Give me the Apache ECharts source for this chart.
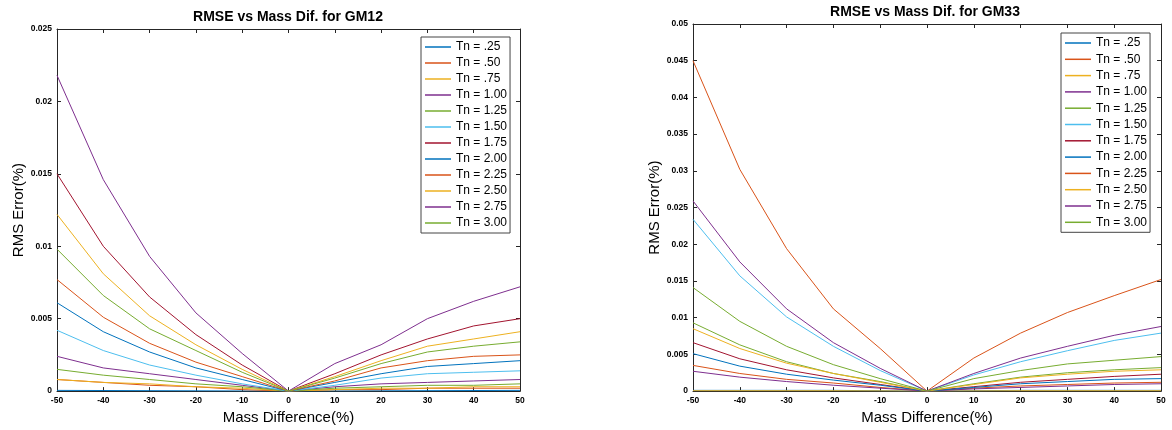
<!DOCTYPE html>
<html>
<head>
<meta charset="utf-8">
<script src="https://cdn.jsdelivr.net/npm/echarts@6/dist/echarts.min.js"></script>
<style>
  html, body { margin: 0; padding: 0; background: #fff; }
  #chart { width: 1172px; height: 430px; }
</style>
</head>
<body>
<div id="chart"></div>
<script>
// x positions shared by both panels
const massDiff = [-50, -40, -30, -20, -10, 0, 10, 20, 30, 40, 50];

const tnNames = [
  "Tn = .25", "Tn = .50", "Tn = .75", "Tn = 1.00", "Tn = 1.25", "Tn = 1.50",
  "Tn = 1.75", "Tn = 2.00", "Tn = 2.25", "Tn = 2.50", "Tn = 2.75", "Tn = 3.00",
];

// MATLAB default colour order (cycles after 7)
const lineColors = ["#0072BD", "#D95319", "#EDB120", "#7E2F8E", "#77AC30", "#4DBEEE", "#A2142F"];

// GM12 RMS error, one row per Tn
const gm12 = [
  [0.00005, 0.00004, 0.00003, 0.00002, 0.00001, 0, 0.00001, 0.00002, 0.00003, 0.00004, 0.00005],
  [0.0008, 0.0006, 0.0004, 0.0003, 0.0001, 0, 0.0001, 0.0001, 0.0002, 0.0002, 0.0002],
  [0.0008, 0.0006, 0.0005, 0.0003, 0.0002, 0, 0.0001, 0.0002, 0.0002, 0.0003, 0.0003],
  [0.0024, 0.0016, 0.0012, 0.0008, 0.0004, 0, 0.0003, 0.0005, 0.0006, 0.0007, 0.0008],
  [0.0015, 0.0011, 0.0008, 0.0005, 0.0003, 0, 0.0002, 0.0003, 0.0004, 0.0004, 0.0005],
  [0.0042, 0.0028, 0.0018, 0.0011, 0.0005, 0, 0.0004, 0.0009, 0.0012, 0.0013, 0.0014],
  [0.0150, 0.0100, 0.0065, 0.0039, 0.0018, 0, 0.0012, 0.0025, 0.0036, 0.0045, 0.0050],
  [0.0061, 0.0041, 0.0027, 0.0016, 0.0008, 0, 0.0006, 0.0012, 0.0017, 0.0019, 0.0021],
  [0.0077, 0.0051, 0.0033, 0.0020, 0.0010, 0, 0.0007, 0.0016, 0.0021, 0.0024, 0.0025],
  [0.0122, 0.0081, 0.0052, 0.0032, 0.0015, 0, 0.0010, 0.0021, 0.0031, 0.0036, 0.0041],
  [0.0218, 0.0146, 0.0093, 0.0054, 0.0026, 0, 0.0019, 0.0032, 0.0050, 0.0062, 0.0072],
  [0.0098, 0.0066, 0.0043, 0.0028, 0.0013, 0, 0.0009, 0.0019, 0.0027, 0.0031, 0.0034],
];

// GM33 RMS error
const gm33 = [
  [0.0001, 0.0001, 0.0001, 0.0001, 0.00005, 0, 0.00005, 0.0001, 0.0001, 0.0001, 0.0001],
  [0.0035, 0.0024, 0.0016, 0.0011, 0.0005, 0, 0.0004, 0.0007, 0.0009, 0.0011, 0.0012],
  [0.00005, 0.00005, 0.00005, 0.00005, 0.00003, 0, 0.00003, 0.00005, 0.00005, 0.00005, 0.00005],
  [0.0027, 0.0019, 0.0013, 0.0008, 0.0004, 0, 0.0003, 0.0005, 0.0007, 0.0009, 0.0010],
  [0.0093, 0.0063, 0.0040, 0.0024, 0.0013, 0, 0.0010, 0.0019, 0.0025, 0.0029, 0.0032],
  [0.0234, 0.0157, 0.0101, 0.0061, 0.0028, 0, 0.0022, 0.0040, 0.0055, 0.0069, 0.0079],
  [0.0066, 0.0044, 0.0029, 0.0018, 0.0009, 0, 0.0006, 0.0012, 0.0016, 0.0020, 0.0023],
  [0.0051, 0.0034, 0.0023, 0.0015, 0.0008, 0, 0.0005, 0.0010, 0.0013, 0.0016, 0.0017],
  [0.0450, 0.0302, 0.0194, 0.0112, 0.0058, 0, 0.0045, 0.0079, 0.0107, 0.0130, 0.0152],
  [0.0085, 0.0058, 0.0038, 0.0024, 0.0012, 0, 0.0009, 0.0018, 0.0023, 0.0027, 0.0029],
  [0.0259, 0.0176, 0.0112, 0.0066, 0.0031, 0, 0.0024, 0.0045, 0.0061, 0.0076, 0.0088],
  [0.0141, 0.0095, 0.0061, 0.0036, 0.0017, 0, 0.0017, 0.0028, 0.0037, 0.0042, 0.0047],
];

const FONT = "Liberation Sans";
const AXIS_COLOR = "#262626";

function tickLabel(v) {
  return String(+v.toFixed(3));
}

function xAxes(gridIndex) {
  const base = {
    type: "value", gridIndex, min: -50, max: 50, interval: 10,
    splitLine: { show: false },
    axisLine: { show: true, onZero: false, lineStyle: { color: AXIS_COLOR, width: 1 } },
    axisTick: { show: true, inside: true, length: 4, lineStyle: { color: AXIS_COLOR } },
  };
  return [
    {
      ...base, position: "bottom",
      name: "Mass Difference(%)", nameLocation: "middle", nameGap: 17,
      nameTextStyle: { fontFamily: FONT, fontSize: 15, color: "#000" },
      axisLabel: { margin: 5, fontFamily: FONT, fontSize: 8.5, fontWeight: "bold", color: "#000" },
    },
    { ...base, position: "top", axisLabel: { show: false } },
  ];
}

function yAxes(gridIndex, max) {
  const base = {
    type: "value", gridIndex, min: 0, max, interval: 0.005,
    splitLine: { show: false },
    axisLine: { show: true, onZero: false, lineStyle: { color: AXIS_COLOR, width: 1 } },
    axisTick: { show: true, inside: true, length: 4, lineStyle: { color: AXIS_COLOR } },
  };
  return [
    {
      ...base, position: "left",
      name: "RMS Error(%)", nameLocation: "middle", nameGap: 31,
      nameTextStyle: { fontFamily: FONT, fontSize: 15, color: "#000" },
      axisLabel: { margin: 5, formatter: tickLabel, fontFamily: FONT, fontSize: 8.5, fontWeight: "bold", color: "#000" },
    },
    { ...base, position: "right", axisLabel: { show: false } },
  ];
}

function panelSeries(rows, axisIndex) {
  return rows.map((row, i) => ({
    type: "line",
    name: tnNames[i],
    xAxisIndex: axisIndex,
    yAxisIndex: axisIndex,
    symbol: "none",
    animation: false,
    color: lineColors[i % lineColors.length],
    lineStyle: { width: 1 },
    data: massDiff.map((x, j) => [x, row[j]]),
  }));
}

function legendAt(left, top, gap) {
  return {
    data: tnNames,
    orient: "vertical",
    left, top,
    icon: "rect",
    itemWidth: 26,
    itemHeight: 1.5,
    itemGap: gap,
    padding: [3, 3, 3, 4],
    borderColor: "#444",
    borderWidth: 1,
    backgroundColor: "#fff",
    textStyle: { fontFamily: FONT, fontSize: 12, lineHeight: 14, color: "#000" },
  };
}

const chart = echarts.init(document.getElementById("chart"), null, { renderer: "canvas" });

chart.setOption({
  backgroundColor: "#fff",
  animation: false,
  title: [
    {
      text: "RMSE vs Mass Dif. for GM12", left: 288, top: 10, textAlign: "center", padding: 0,
      textStyle: { fontFamily: FONT, fontSize: 14, fontWeight: "bold", color: "#000" },
    },
    {
      text: "RMSE vs Mass Dif. for GM33", left: 925, top: 5, textAlign: "center", padding: 0,
      textStyle: { fontFamily: FONT, fontSize: 14, fontWeight: "bold", color: "#000" },
    },
  ],
  legend: [legendAt(421, 37, 2.0), legendAt(1061, 33, 2.3)],
  grid: [
    { left: 57, top: 29, width: 463, height: 364, containLabel: false },
    { left: 693, top: 24, width: 468, height: 369, containLabel: false },
  ],
  xAxis: [...xAxes(0), ...xAxes(1)],
  yAxis: [...yAxes(0, 0.025), ...yAxes(1, 0.05)],
  series: [...panelSeries(gm12, 0), ...panelSeries(gm33, 2)],
});
</script>
</body>
</html>
